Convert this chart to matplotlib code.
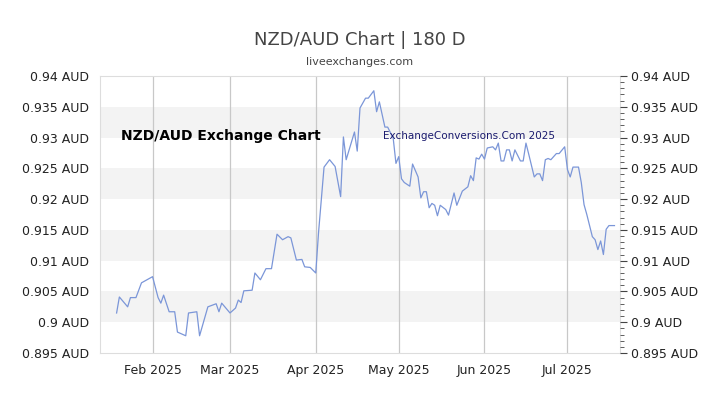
import matplotlib
matplotlib.use("Agg")
import matplotlib.pyplot as plt
import pandas as pd
from matplotlib import font_manager

dates = ["2025-01-19","2025-01-20","2025-01-23","2025-01-24","2025-01-26","2025-01-28","2025-01-30",
"2025-02-01","2025-02-03","2025-02-04","2025-02-05","2025-02-07","2025-02-09","2025-02-10","2025-02-13",
"2025-02-14","2025-02-17","2025-02-18","2025-02-21","2025-02-24","2025-02-25","2025-02-26",
"2025-03-01","2025-03-03","2025-03-04","2025-03-05","2025-03-06","2025-03-09","2025-03-10","2025-03-12",
"2025-03-14","2025-03-16","2025-03-18","2025-03-20","2025-03-22","2025-03-23","2025-03-25","2025-03-27",
"2025-03-28","2025-03-30","2025-04-01","2025-04-02","2025-04-04","2025-04-06","2025-04-08","2025-04-10",
"2025-04-11","2025-04-12","2025-04-15","2025-04-16","2025-04-17","2025-04-19","2025-04-20","2025-04-22",
"2025-04-23","2025-04-24","2025-04-26","2025-04-27","2025-04-29","2025-04-30","2025-05-01","2025-05-02",
"2025-05-03","2025-05-05","2025-05-06","2025-05-08","2025-05-09","2025-05-10","2025-05-11","2025-05-12",
"2025-05-13","2025-05-14","2025-05-15","2025-05-16","2025-05-18","2025-05-19","2025-05-21","2025-05-22",
"2025-05-24","2025-05-26","2025-05-27","2025-05-28","2025-05-29","2025-05-30","2025-05-31","2025-06-01",
"2025-06-02","2025-06-04","2025-06-05","2025-06-06","2025-06-07","2025-06-08","2025-06-09","2025-06-10",
"2025-06-11","2025-06-12","2025-06-14","2025-06-15","2025-06-16","2025-06-17","2025-06-19","2025-06-20",
"2025-06-21","2025-06-22","2025-06-23","2025-06-24","2025-06-25","2025-06-27","2025-06-28","2025-06-30",
"2025-07-01","2025-07-02","2025-07-03","2025-07-05","2025-07-06","2025-07-07","2025-07-08","2025-07-10",
"2025-07-11","2025-07-12","2025-07-13","2025-07-14","2025-07-15","2025-07-16","2025-07-18"]
rates = [0.9015,0.9041,0.9025,0.9040,0.9040,0.9064,0.9069,
0.9074,0.9040,0.9031,0.9044,0.9017,0.9017,0.8984,0.8978,
0.9015,0.9017,0.8978,0.9025,0.9030,0.9017,0.9031,
0.9015,0.9023,0.9036,0.9032,0.9051,0.9052,0.9080,0.9069,
0.9087,0.9087,0.9143,0.9134,0.9139,0.9137,0.9101,0.9102,
0.9090,0.9089,0.9080,0.9145,0.9252,0.9264,0.9253,0.9204,
0.9301,0.9264,0.9309,0.9278,0.9348,0.9364,0.9364,0.9376,
0.9342,0.9358,0.9317,0.9317,0.9299,0.9258,0.9269,0.9233,
0.9227,0.9221,0.9257,0.9236,0.9202,0.9212,0.9212,0.9186,
0.9193,0.9190,0.9173,0.9190,0.9183,0.9174,0.9210,0.9190,
0.9213,0.9220,0.9238,0.9230,0.9267,0.9265,0.9273,0.9265,
0.9283,0.9285,0.9280,0.9291,0.9262,0.9262,0.9280,0.9280,
0.9262,0.9280,0.9262,0.9262,0.9291,0.9273,0.9236,0.9241,
0.9241,0.9230,0.9264,0.9266,0.9264,0.9274,0.9274,0.9285,
0.9248,0.9236,0.9252,0.9252,0.9227,0.9191,0.9175,0.9139,
0.9134,0.9118,0.9132,0.9110,0.9151,0.9157,0.9157]
yticks = [0.895,0.90,0.905,0.91,0.915,0.92,0.925,0.93,0.935,0.94]
ytick_labels = ["0.895 AUD","0.9 AUD","0.905 AUD","0.91 AUD","0.915 AUD","0.92 AUD","0.925 AUD","0.93 AUD","0.935 AUD","0.94 AUD"]
month_ticks = ["2025-02-01","2025-03-01","2025-04-01","2025-05-01","2025-06-01","2025-07-01"]
month_labels = ["Feb 2025","Mar 2025","Apr 2025","May 2025","Jun 2025","Jul 2025"]

names = {f.name for f in font_manager.fontManager.ttflist}
if "DejaVu Sans Condensed" in names:
    narrow, s1, s2 = "DejaVu Sans Condensed", 11, 8.5
else:
    narrow, s1, s2 = "DejaVu Sans", 10, 7.5

x = pd.to_datetime(dates)
fig = plt.figure(figsize=(7.2, 4.05), dpi=100)
ax = fig.add_axes([100/720, 1-353/405, 520/720, 277/405])
ax.set_xlim(pd.Timestamp("2025-01-13"), pd.Timestamp("2025-07-20"))
ax.set_ylim(0.895, 0.94)
for lo in [0.90, 0.91, 0.92, 0.93]:
    ax.axhspan(lo, lo+0.005, color="#f3f3f3", zorder=0, lw=0)
for m in pd.to_datetime(month_ticks):
    ax.axvline(m, color="#c8c8c8", lw=0.9, zorder=1)
ax.plot(x, rates, color="#7b96d8", lw=0.9, zorder=3)
for s in ax.spines.values():
    s.set_color("#dddddd")
ax.set_yticks(yticks)
ax.set_yticklabels(ytick_labels, fontsize=9, color="#222222")
ax.set_xticks(pd.to_datetime(month_ticks))
ax.set_xticklabels(month_labels, fontsize=9, color="#222222")
ax.tick_params(axis="x", length=0, pad=8)
ax.tick_params(axis="y", length=0, pad=8)
ax2 = ax.twinx()
ax2.set_ylim(0.895, 0.94)
ax2.set_yticks(yticks)
ax2.set_yticklabels(ytick_labels, fontsize=9, color="#222222")
ax2.set_yticks([0.895 + i*0.001 for i in range(46)], minor=True)
ax2.tick_params(axis="y", which="major", length=5, color="#444444", pad=3)
ax2.tick_params(axis="y", which="minor", length=3, color="#444444")
for s in ax2.spines.values():
    s.set_visible(False)
fig.text(0.5, 1-40/405, "NZD/AUD Chart | 180 D", ha="center", va="center", fontsize=13, color="#444444")
fig.text(0.5, 1-62/405, "liveexchanges.com", ha="center", va="center", fontsize=8, color="#444444")
ax.text(0.04, 0.785, "NZD/AUD Exchange Chart", transform=ax.transAxes, fontsize=s1,
        fontweight="bold", family=narrow, color="black", va="center")
ax.text(0.544, 0.785, "ExchangeConversions.Com 2025", transform=ax.transAxes, fontsize=s2,
        family=narrow, color="#1a1a6e", va="center")
fig.savefig("out.png", dpi=100)
